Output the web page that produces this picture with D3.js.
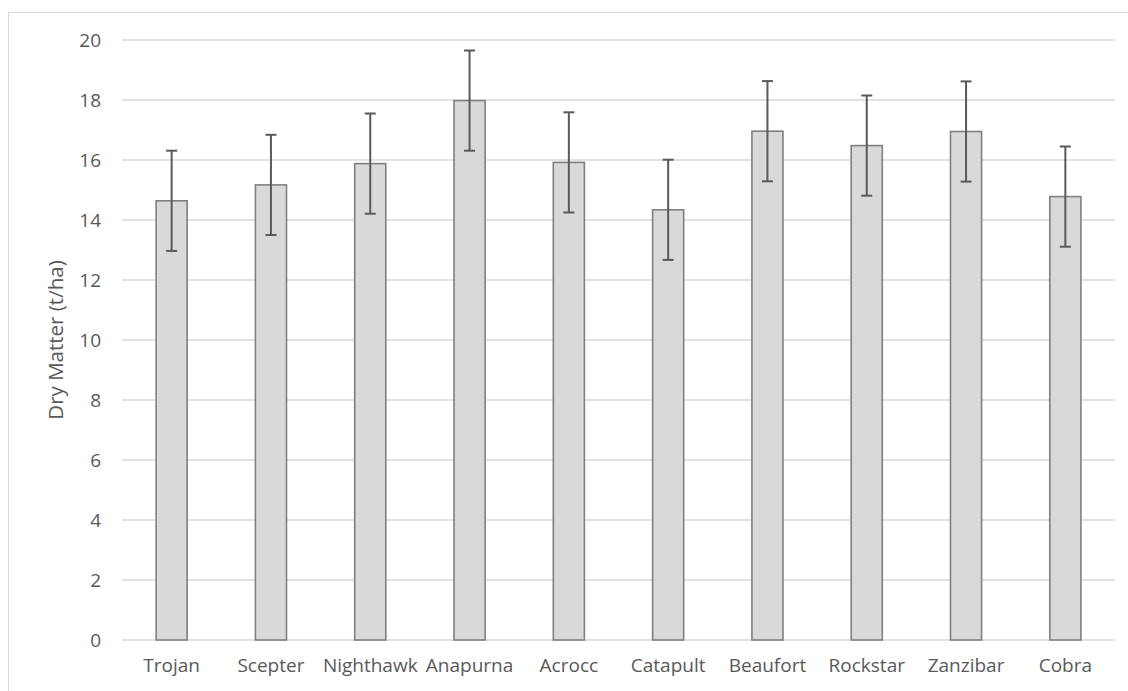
<!DOCTYPE html>
<html>
<head>
<meta charset="utf-8">
<script src="https://cdn.jsdelivr.net/npm/d3@7"></script>
<style>
  html, body { margin: 0; padding: 0; background: #fff; }
  svg { display: block; }
  text { font-family: "Open Sans", sans-serif; fill: #595959; }
</style>
</head>
<body>
<svg id="chart" width="1128" height="691"></svg>
<script>
const categories = ["Trojan", "Scepter", "Nighthawk", "Anapurna", "Acrocc", "Catapult", "Beaufort", "Rockstar", "Zanzibar", "Cobra"];
const dryMatter = [14.64, 15.17, 15.88, 17.98, 15.92, 14.34, 16.96, 16.48, 16.95, 14.78];
const errorBar = [1.67, 1.67, 1.67, 1.67, 1.67, 1.67, 1.67, 1.67, 1.67, 1.67];
const yTicks = [0, 2, 4, 6, 8, 10, 12, 14, 16, 18, 20];
const yTitle = "Dry Matter (t/ha)";

const svg = d3.select("#chart");
const plotLeft = 122, plotRight = 1115, plotTop = 40, plotBottom = 640;

// outer chart border (cut off at right/bottom)
svg.append("rect")
  .attr("x", 8.5).attr("y", 12.5)
  .attr("width", 1140).attr("height", 700)
  .attr("fill", "none").attr("stroke", "#d9d9d9").attr("stroke-width", 1);

const x = d3.scaleBand().domain(categories).range([plotLeft, plotRight])
  .paddingInner(0.687).paddingOuter(0.3435);
const y = d3.scaleLinear().domain([0, 20]).range([plotBottom, plotTop]);

// gridlines
svg.append("g").selectAll("line").data(yTicks).join("line")
  .attr("x1", plotLeft).attr("x2", plotRight)
  .attr("y1", d => y(d)).attr("y2", d => y(d))
  .attr("stroke", "#d9d9d9").attr("stroke-width", 1.3);

// y axis labels
const yAxis = d3.axisLeft(y).tickValues(yTicks).tickSize(0).tickPadding(21);
const gy = svg.append("g").attr("transform", `translate(${plotLeft},0)`).call(yAxis);
gy.select(".domain").remove();
gy.selectAll("text").attr("font-size", 19).attr("font-family", "Open Sans").attr("fill", "#595959");

// x axis labels
const xAxis = d3.axisBottom(x).tickSize(0).tickPadding(19);
const gx = svg.append("g").attr("transform", `translate(0,${plotBottom})`).call(xAxis);
gx.select(".domain").remove();
gx.selectAll("text").attr("font-size", 19).attr("font-family", "Open Sans").attr("fill", "#595959");

// bars
svg.append("g").selectAll("rect").data(categories).join("rect")
  .attr("x", d => x(d))
  .attr("y", (d, i) => y(dryMatter[i]))
  .attr("width", x.bandwidth())
  .attr("height", (d, i) => y(0) - y(dryMatter[i]))
  .attr("fill", "#d9d9d9").attr("stroke", "#808080").attr("stroke-width", 1.6);

// error bars
const eg = svg.append("g").attr("stroke", "#595959").attr("stroke-width", 2);
categories.forEach((c, i) => {
  const cx = x(c) + x.bandwidth() / 2;
  const hi = y(dryMatter[i] + errorBar[i]);
  const lo = y(dryMatter[i] - errorBar[i]);
  eg.append("line").attr("x1", cx).attr("x2", cx).attr("y1", hi).attr("y2", lo);
  eg.append("line").attr("x1", cx - 5.5).attr("x2", cx + 5.5).attr("y1", hi).attr("y2", hi);
  eg.append("line").attr("x1", cx - 5.5).attr("x2", cx + 5.5).attr("y1", lo).attr("y2", lo);
});

// y title
svg.append("text")
  .attr("transform", "translate(63,340) rotate(-90)")
  .attr("text-anchor", "middle")
  .attr("font-size", 20.5)
  .text(yTitle);
</script>
</body>
</html>
